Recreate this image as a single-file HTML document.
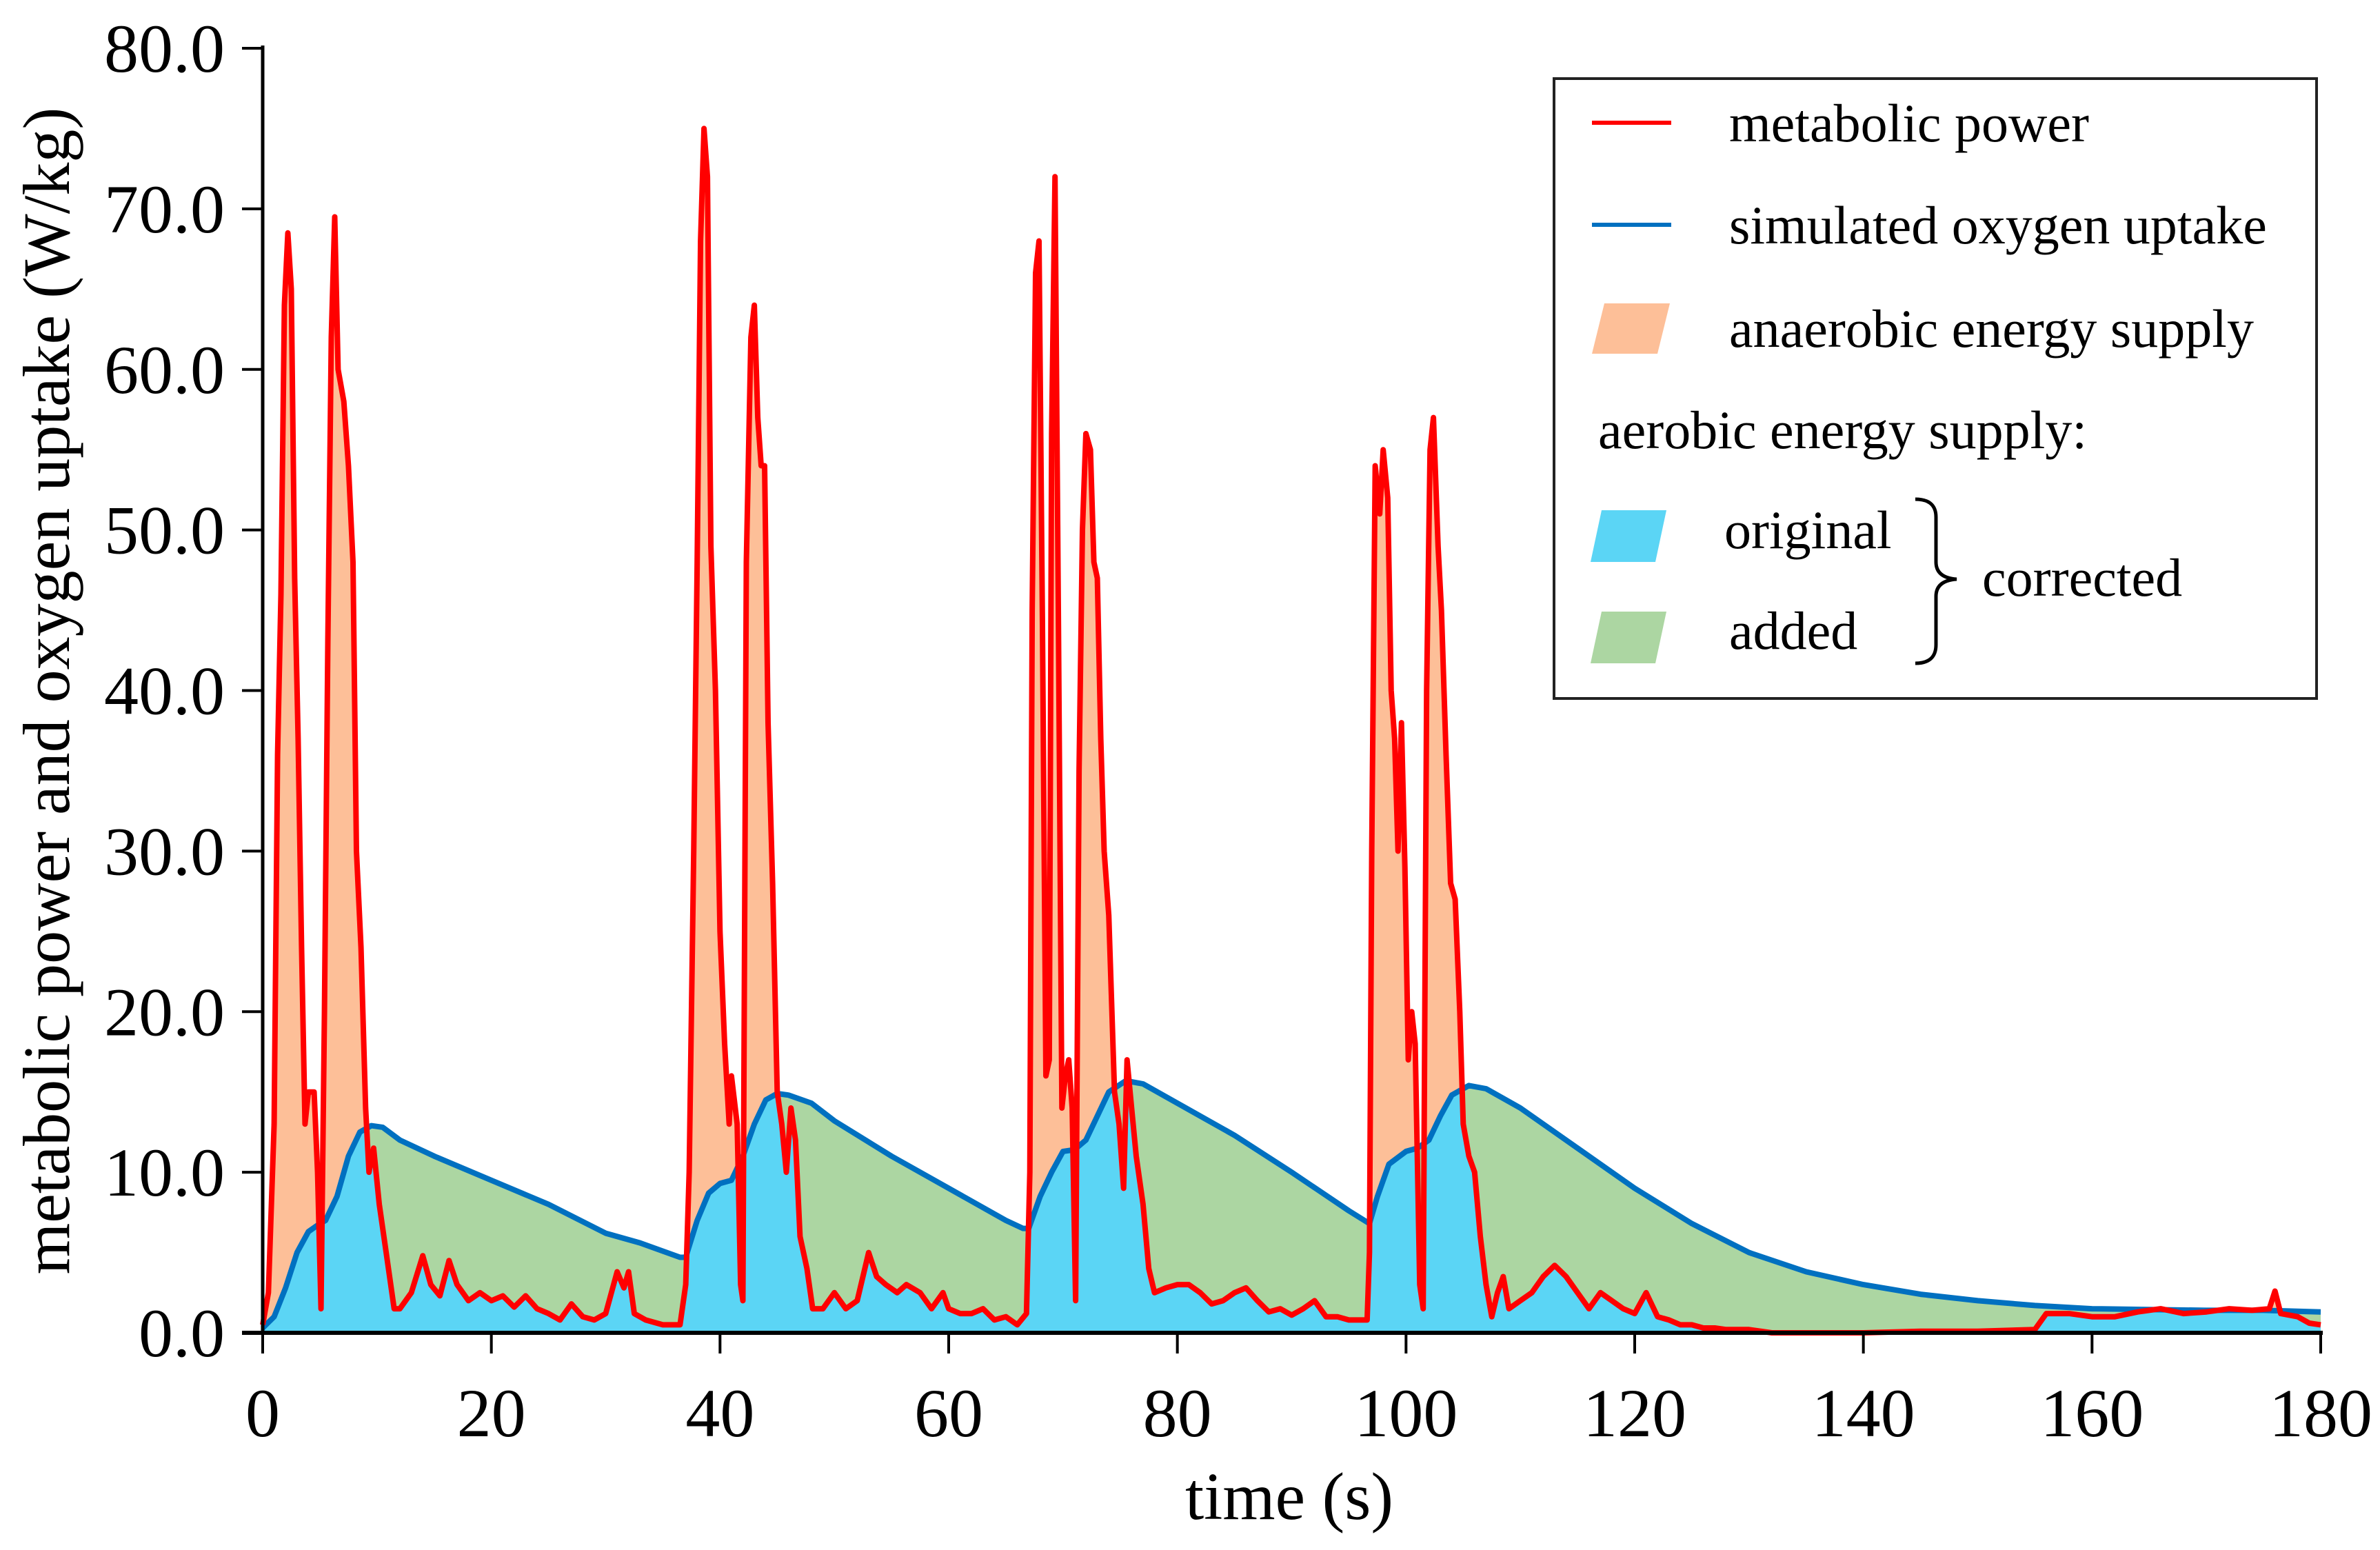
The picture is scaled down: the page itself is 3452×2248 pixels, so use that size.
<!DOCTYPE html>
<html><head><meta charset="utf-8">
<style>
html,body{margin:0;padding:0;background:#fff;}
svg{display:block;}
text{font-family:"Liberation Serif","Times New Roman",serif;fill:#000;}
</style></head>
<body>
<svg id="chart" width="3452" height="2248" viewBox="0 0 3452 2248" xmlns="http://www.w3.org/2000/svg">
  <g id="fills"></g>
  <g id="lines"></g>
  <g id="axes"></g>
  <g id="legend">
    <rect x="2254" y="114" width="1106" height="899" fill="#fff" stroke="#222" stroke-width="4"/>
    <g>
      <line x1="2309" y1="178" x2="2424" y2="178" stroke="#ff0000" stroke-width="6"/>
      <text x="2508" y="205" font-size="78">metabolic power</text>
    </g>
    <g>
      <line x1="2309" y1="326" x2="2424" y2="326" stroke="#0070c0" stroke-width="6"/>
      <text x="2508" y="353" font-size="78">simulated oxygen uptake</text>
    </g>
    <g>
      <polygon points="2327,440 2422,440 2404,513 2309,513" fill="#fdbf98"/>
      <text x="2508" y="503" font-size="78">anaerobic energy supply</text>
    </g>
    <text x="2318" y="650" font-size="78">aerobic energy supply:</text>
    <g>
      <polygon points="2323,740 2417,740 2401,815 2307,815" fill="#5bd5f5"/>
      <text x="2501" y="795" font-size="78">original</text>
    </g>
    <g>
      <polygon points="2323,887 2417,887 2401,962 2307,962" fill="#acd6a2"/>
      <text x="2508" y="941" font-size="78">added</text>
    </g>
    <path d="M2778,724 Q2808,724 2808,750 L2808,815 Q2808,838 2838,840 Q2808,842 2808,865 L2808,935 Q2808,962 2778,962" fill="none" stroke="#000" stroke-width="5"/>
    <text x="2875" y="864" font-size="78">corrected</text>
  </g>
  <text x="1870" y="2203" font-size="98" text-anchor="middle">time (s)</text>
  <text transform="translate(100,1002) rotate(-90)" x="0" y="0" font-size="96" text-anchor="middle">metabolic power and oxygen uptake (W/kg)</text>
</svg>
<script>
// ---- data ----
const metTime = [0,0.5,1,1.3,1.6,1.9,2.2,2.5,2.8,3.1,3.4,3.7,4.0,4.5,4.8,5.1,5.4,5.7,6.0,6.3,6.6,7.1,7.5,7.9,8.2,8.6,9,9.3,9.7,10.2,10.8,11.5,12,13,14,14.7,15.5,16.3,17,18,19,20,21,22,23,24,25,26,27,28,29,30,31,31.6,32,32.5,33.5,35,36.5,37,
37.3,37.7,38,38.3,38.6,38.9,39.2,39.6,40,40.4,40.8,41,41.5,41.8,42,42.3,42.7,43,43.3,43.6,43.9,44.2,44.6,45,45.4,45.8,46.2,46.6,47,47.6,48.1,49,50,51,52,53,53.7,54.5,55.5,56.3,57.5,58.5,59.5,60,61,62,63,64,65,66,66.8,
67.1,67.3,67.6,67.9,68.2,68.5,68.8,69,69.3,69.6,69.9,70.2,70.5,70.8,71.1,71.4,71.7,72,72.4,72.7,73,73.3,73.6,74,74.5,74.9,75.3,75.6,76,76.4,77,77.5,78,79,80,81,82,83,84,85,86,87,88,89,90,91,92,93,94,95,96.6,
96.8,97,97.3,97.7,98,98.4,98.7,99,99.3,99.6,99.9,100.2,100.5,100.8,101.2,101.5,101.8,102.1,102.4,102.8,103.1,103.5,103.9,104.3,104.7,105,105.5,106,106.5,107,107.5,108,108.5,109,110,111,112,113,114,115,116,117,118,119,120,121,122,123,124,125,126,127,128,130,132,140,145,150,155,156,158,160,162,164,166,168,170,172,174,175.5,176,176.5,178,179,180];
const metPower = [0.5,2.5,13,36,46,64,68.5,65,47,37,24,13,15,15,10,1.5,20,43,62,69.5,60,58,54,48,30,24,14,10,11.5,8,5,1.5,1.5,2.5,4.8,3,2.3,4.5,3,2,2.5,2,2.3,1.6,2.3,1.5,1.2,0.8,1.8,1,0.8,1.2,3.8,2.8,3.8,1.2,0.8,0.5,0.5,3,
10,30,48,68,75,72,49,40,25,18,13,16,13,3,2,48,62,64,57,54,54,38,28,15,13,10,14,12,6,4,1.5,1.5,2.5,1.5,2,5,3.5,3,2.5,3,2.5,1.5,2.5,1.5,1.2,1.2,1.5,0.8,1,0.5,1.2,
10,45,66,68,44,16,17,56,72,44,14,16,17,14,2,35,50,56,55,48,47,37,30,26,15,13,9,17,14,11,8,4,2.5,2.8,3,3,2.5,1.8,2,2.5,2.8,2,1.3,1.5,1.1,1.5,2,1,1,0.8,0.8,
5,30,54,51,55,52,40,37,30,38,29,17,20,18,3,1.5,40,55,57,49,45,36,28,27,20,13,11,10,6,3,1,2.5,3.5,1.5,2,2.5,3.5,4.2,3.5,2.5,1.5,2.5,2,1.5,1.2,2.5,1,0.8,0.5,0.5,0.3,0.3,0.2,0.2,0,0,0.1,0.1,0.2,1.2,1.2,1,1,1.3,1.5,1.2,1.3,1.5,1.4,1.5,2.6,1.2,1,0.6,0.5];
const vo2Time = [0,1,2,3,4,5,5.5,6.5,7.5,8.5,9.5,10.5,12,15,20,25,30,33,36.5,37,38,39,40,41,42,43,44,45,46,48,50,55,60,65,66.5,67,68,69,70,71,72,73,74,75.5,77,80,85,90,95,96.8,97.5,98.5,100,101,102,103,104,105.5,107,110,115,120,125,130,135,140,145,150,155,160,170,175,180];
const vo2Value = [0.3,1,2.8,5,6.3,6.8,7,8.5,11,12.5,12.9,12.8,12,11,9.5,8,6.2,5.6,4.7,4.7,7,8.7,9.3,9.5,11,13,14.5,14.9,14.8,14.3,13.2,11,9,7,6.5,6.5,8.5,10,11.3,11.4,12,13.5,15,15.7,15.5,14.3,12.3,10,7.6,6.8,8.5,10.5,11.3,11.5,12,13.5,14.8,15.4,15.2,14,11.5,9,6.8,5,3.8,3,2.4,2,1.7,1.5,1.4,1.4,1.3];
const xTicks = [0,20,40,60,80,100,120,140,160,180];
const yTicks = [0,10,20,30,40,50,60,70,80];
const yTickLabels = ["0.0","10.0","20.0","30.0","40.0","50.0","60.0","70.0","80.0"];

// ---- scales ----
const X0=381, X1=3366, Y0=1933, Y1=70;
function xs(t){return X0+(t/180)*(X1-X0);}
function ys(v){return Y0-(v/80)*(Y0-Y1);}
function interp(T,V,t){
  if(t<=T[0])return V[0];
  for(let i=1;i<T.length;i++){ if(t<=T[i]){const f=(t-T[i-1])/(T[i]-T[i-1]);return V[i-1]+f*(V[i]-V[i-1]);} }
  return V[V.length-1];
}
const NS="http://www.w3.org/2000/svg";
const fills=document.getElementById('fills'), lines=document.getElementById('lines'), axes=document.getElementById('axes');

const grid=[];
for(let t=0;t<=180.0001;t+=0.1)grid.push(+t.toFixed(2));
metTime.concat(vo2Time).forEach(t=>{if(!grid.includes(t))grid.push(t);});
grid.sort((a,b)=>a-b);
const red=grid.map(t=>interp(metTime,metPower,t));
const blu=grid.map(t=>interp(vo2Time,vo2Value,t));
const mn=grid.map((t,i)=>Math.min(red[i],blu[i]));
function areaPath(vals){
  let d='M'+xs(grid[0])+','+ys(0);
  grid.forEach((t,i)=>{d+=' L'+xs(t).toFixed(1)+','+ys(vals[i]).toFixed(1);});
  d+=' L'+xs(grid[grid.length-1])+','+ys(0)+' Z';return d;
}
function linePath(T,V){return T.map((t,i)=>(i?'L':'M')+xs(t).toFixed(1)+','+ys(V[i]).toFixed(1)).join(' ');}

const gArea=document.createElementNS(NS,'path');
gArea.setAttribute('d',areaPath(blu));gArea.setAttribute('fill','#acd6a2');


fills.appendChild(gArea);
const oArea=document.createElementNS(NS,'path');
oArea.setAttribute('d',areaPath(red));oArea.setAttribute('fill','#fdbf98');


fills.appendChild(oArea);
const cArea=document.createElementNS(NS,'path');
cArea.setAttribute('d',areaPath(mn));cArea.setAttribute('fill','#5bd5f5');


fills.appendChild(cArea);

const bLine=document.createElementNS(NS,'path');
bLine.setAttribute('d',linePath(vo2Time,vo2Value));bLine.setAttribute('fill','none');bLine.setAttribute('stroke','#0070c0');bLine.setAttribute('stroke-width','8');bLine.setAttribute('stroke-linejoin','round');


lines.appendChild(bLine);
const rLine=document.createElementNS(NS,'path');
rLine.setAttribute('d',linePath(metTime,metPower));rLine.setAttribute('fill','none');rLine.setAttribute('stroke','#ff0000');rLine.setAttribute('stroke-width','8');rLine.setAttribute('stroke-linejoin','round');


lines.appendChild(rLine);

function mk(tag,attrs){const e=document.createElementNS(NS,tag);for(const k in attrs)e.setAttribute(k,attrs[k]);return e;}
const yAxis=mk('line',{x1:X0,y1:Y1-4,x2:X0,y2:Y0,stroke:'#000','stroke-width':5});


axes.appendChild(yAxis);
const xAxis=mk('line',{x1:X0-30,y1:Y0,x2:X1+3,y2:Y0,stroke:'#000','stroke-width':6});


axes.appendChild(xAxis);
yTicks.forEach((v,i)=>{
  const tk=mk('line',{x1:X0-30,y1:ys(v),x2:X0,y2:ys(v),stroke:'#000','stroke-width':4});
  
  
  axes.appendChild(tk);
  const lb=mk('text',{x:326,y:ys(v)+34,'font-size':100,'text-anchor':'end'});
  lb.textContent=yTickLabels[i];
  
  
  axes.appendChild(lb);
});
xTicks.forEach(t=>{
  const tk=mk('line',{x1:xs(t),y1:Y0,x2:xs(t),y2:Y0+30,stroke:'#000','stroke-width':4});
  
  
  axes.appendChild(tk);
  const lb=mk('text',{x:xs(t),y:2083,'font-size':100,'text-anchor':'middle'});
  lb.textContent=String(t);
  
  
  axes.appendChild(lb);
});
</script>
</body></html>
